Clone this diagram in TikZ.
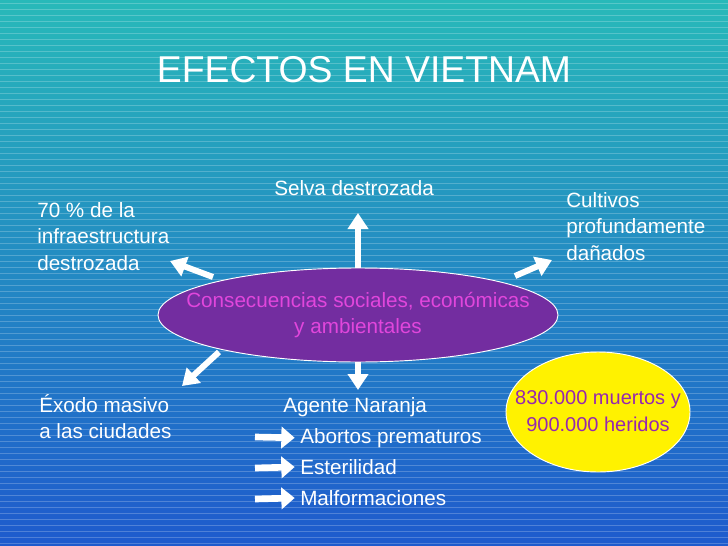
\documentclass[tikz,border=0pt]{standalone}
\usepackage{fontspec}
\setmainfont{Liberation Sans}
\usetikzlibrary{arrows.meta}
\definecolor{bgtop}{RGB}{40,185,185}
\definecolor{bgbot}{RGB}{30,90,205}
\definecolor{purp}{RGB}{115,45,160}
\definecolor{mag}{RGB}{225,70,220}
\definecolor{ytext}{RGB}{150,40,175}
\tikzset{
 lbl/.style={text=white,font=\fontsize{15.5pt}{19.8pt}\selectfont,align=left,anchor=north west,inner sep=0pt},
 bigarrow/.style={white,line width=4.5pt,-{Triangle[length=12pt,width=15pt]}},
 smallarrow/.style={white,line width=5pt,-{Triangle[length=10pt,width=16pt]}}
}
\begin{document}
\begin{tikzpicture}[x=0.75pt,y=-0.75pt]
\useasboundingbox (0,0) rectangle (728,546);
\shade[top color=bgtop,bottom color=bgbot] (0,0) rectangle (728,546);
\foreach \y in {3,9,...,546} \draw[white,opacity=0.22,line width=0.5pt] (0,\y) -- (728,\y);
\node[text=white,font=\fontsize{28pt}{32pt}\selectfont] (title) at (364,70) {EFECTOS EN VIETNAM};
\fill[purp,draw=white,line width=0.7pt] (358,315) ellipse [x radius=200,y radius=47];
\node[text=mag,font=\fontsize{15.5pt}{20pt}\selectfont,align=center] (ct) at (358,315) {Consecuencias sociales, económicas\\y ambientales};
\fill[yellow,draw=white,line width=0.7pt] (598,412) ellipse [x radius=92,y radius=60];
\node[text=ytext,font=\fontsize{15pt}{20pt}\selectfont,align=center] (y) at (598,411) {830.000 muertos y\\ 900.000 heridos};
\node[lbl] (selva) at (274,180) {Selva destrozada};
\node[lbl] (infra) at (37,202) {70 \% de la\\infraestructura\\destrozada};
\node[lbl] (cult) at (566,192) {Cultivos\\profundamente\\dañados};
\node[lbl] (exodo) at (39,394) {Éxodo masivo\\a las ciudades};
\node[lbl] (agente) at (283,397) {Agente Naranja};
\node[lbl] (a1) at (300,428) {Abortos prematuros};
\node[lbl] (a2) at (300,459) {Esterilidad};
\node[lbl] (a3) at (300,490) {Malformaciones};
\coordinate (e1) at (358,268); \coordinate (t1) at (358,213);
\coordinate (e2) at (515,276); \coordinate (t2) at (552,260);
\coordinate (e3) at (213,277); \coordinate (t3) at (170,261);
\coordinate (e4) at (219,352); \coordinate (t4) at (182,386);
\coordinate (e5) at (358,362); \coordinate (t5) at (358,390);
\draw[bigarrow] (e1) -- (t1);
\draw[bigarrow] (e2) -- (t2);
\draw[bigarrow] (e3) -- (t3);
\draw[bigarrow] (e4) -- (t4);
\draw[bigarrow] (e5) -- (t5);
\draw[smallarrow,shorten >=4pt] (255,437) -- (a1.west);
\draw[smallarrow,shorten >=4pt] (255,468) -- (a2.west);
\draw[smallarrow,shorten >=4pt] (255,499) -- (a3.west);
\end{tikzpicture}
\end{document}
